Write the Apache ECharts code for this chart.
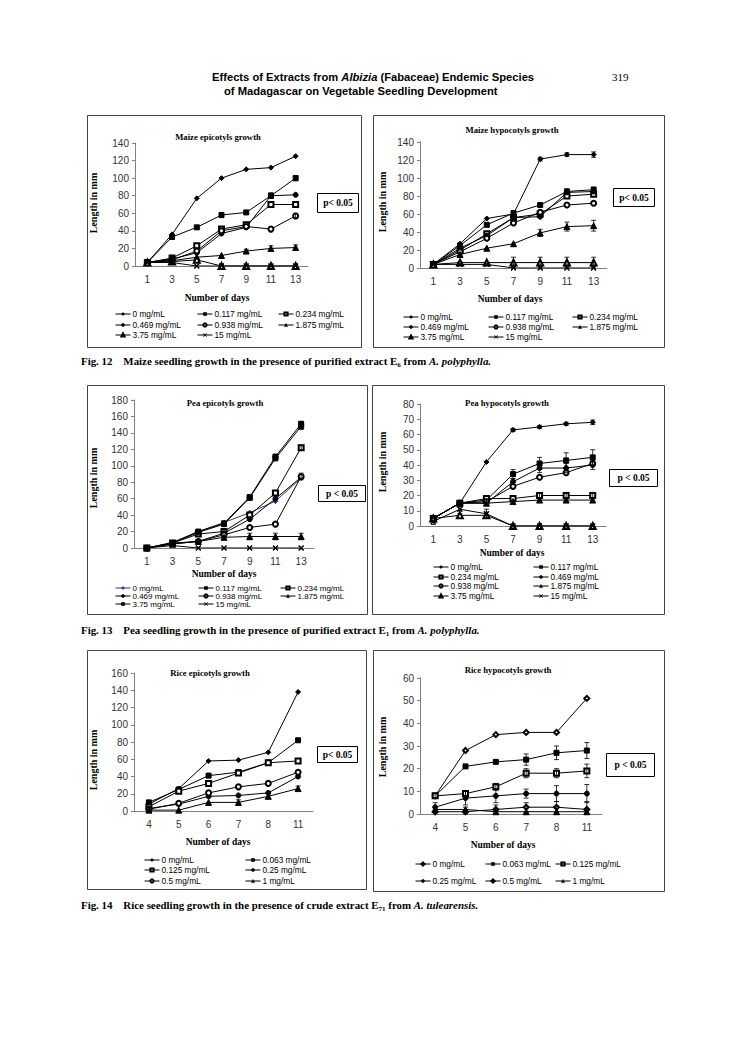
<!DOCTYPE html>
<html><head><meta charset="utf-8">
<script src="https://cdn.jsdelivr.net/npm/echarts@6/dist/echarts.min.js"></script>
<style>
html,body{margin:0;padding:0;background:#fff;}
body{width:745px;height:1053px;position:relative;overflow:hidden;}
.ch{position:absolute;}
.t{position:absolute;white-space:nowrap;color:#000;line-height:1;}
.hdr{font-family:'Liberation Sans',Arial,sans-serif;font-weight:bold;font-size:11.2px;}
.cap{font-family:'Liberation Serif','Times New Roman',serif;font-weight:bold;font-size:10.9px;}
.cap sub{font-size:7px;vertical-align:-2px;line-height:0;}
</style></head><body>
<div class="t hdr" style="left:212px;top:72px">Effects of Extracts from <i>Albizia</i> (Fabaceae) Endemic Species</div>
<div class="t hdr" style="left:224px;top:86px">of Madagascar on Vegetable Seedling Development</div>
<div class="t" style="left:612px;top:72px;font-family:'Liberation Serif',serif;font-size:11px">319</div>

<div class="ch" id="c1" style="left:87px;top:115px"></div>
<div class="ch" id="c2" style="left:373px;top:115px"></div>
<div class="t cap" style="left:81px;top:356px">Fig. 12&nbsp;&nbsp;&nbsp; Maize seedling growth in the presence of purified extract E<sub>6</sub> from <i>A. polyphylla.</i></div>

<div class="ch" id="c3" style="left:87px;top:385px"></div>
<div class="ch" id="c4" style="left:372px;top:385px"></div>
<div class="t cap" style="left:81px;top:625px">Fig. 13&nbsp;&nbsp;&nbsp; Pea seedling growth in the presence of purified extract E<sub>1</sub> from <i>A. polyphylla.</i></div>

<div class="ch" id="c5" style="left:87px;top:650px"></div>
<div class="ch" id="c6" style="left:373px;top:650px"></div>
<div class="t cap" style="left:81px;top:900px">Fig. 14&nbsp;&nbsp;&nbsp; Rice seedling growth in the presence of crude extract E<sub>71</sub> from <i>A. tulearensis.</i></div>

<script>
// ---------- DATA ----------
const maizeDays = ['1','3','5','7','9','11','13'];
const peaDays = ['1','3','5','7','9','11','13'];
const riceDays = ['4','5','6','7','8','11'];
const e6Doses = ['0 mg/mL','0.117 mg/mL','0.234 mg/mL','0.469 mg/mL','0.938 mg/mL','1.875 mg/mL','3.75 mg/mL','15 mg/mL'];
const e71Doses = ['0 mg/mL','0.063 mg/mL','0.125 mg/mL','0.25 mg/mL','0.5 mg/mL','1 mg/mL'];

// Maize epicotyls
const me0    = [4,36,77,100,110,112,125];
const me0117 = [4,33,44,58,61,80,100];
const me0234 = [4,9,23,42,47,70,70];
const me0469 = [4,8,15,37,44,80,81];
const me0938 = [4,7,17,40,45,42,57];
const me1875 = [4,6,10,12,17,20,21];
const me375  = [4,5,7,0,0,0,0];
const me15   = [4,4,0,0,0,0,0];
const me0117Err = [0,1,2,3,2,3,3];
const me0469Err = [0,0,0,0,0,3,0];
const me0938Err = [0,0,0,0,0,0,3];
const me1875Err = [0,0,0,0,2,3,3];

// Maize hypocotyls
const mh0    = [4,27,55,60,121,126,126];
const mh0117 = [4,25,48,61,70,85,87];
const mh0234 = [4,20,38,56,60,80,82];
const mh0469 = [4,22,36,56,57,84,85];
const mh0938 = [4,18,33,50,62,70,72];
const mh1875 = [4,15,22,27,39,46,47];
const mh375  = [4,6,6,6,6,6,6];
const mh15   = [4,4,4,0,0,0,0];
const mh0Err    = [0,0,0,0,2,2,3];
const mh0117Err = [0,0,0,0,0,3,3];
const mh1875Err = [0,0,0,0,4,5,6];
const mh375Err  = [0,0,0,6,6,6,6];

// Pea epicotyls
const pe0    = [0,7,20,31,43,57,85];
const pe0117 = [0,6,20,30,62,111,151];
const pe0234 = [0,6,17,20,40,67,122];
const pe0469 = [0,6,8,18,35,60,86];
const pe0938 = [0,5,8,16,25,29,87];
const pe1875 = [0,5,8,13,14,14,14];
const pe375  = [0,6,19,29,61,109,148];
const pe15   = [0,3,0,0,0,0,0];
const pe0117Err = [0,0,0,0,0,3,3];
const pe375Err  = [0,0,0,0,0,0,4];
const pe0234Err = [0,0,0,0,0,0,3];
const pe0938Err = [0,0,0,0,0,0,4];
const pe1875Err = [0,0,0,0,4,4,4];

// Pea hypocotyls
const ph0    = [5,15,42,63,65,67,68];
const ph0117 = [5,15,17,34,41,43,45];
const ph0234 = [5,15,18,18,20,20,20];
const ph0469 = [5,15,15,29,38,38,40];
const ph0938 = [5,15,16,26,32,35,41];
const ph1875 = [5,15,15,16,17,17,17];
const ph375  = [5,7,7,0,0,0,0];
const ph15   = [3,11,8,0,0,0,0];
const ph0Err    = [0,0,0,1,1,1,1.5];
const ph0117Err = [0,0,0,3,4,5,5];
const ph0469Err = [0,0,0,2,3,3,3];
const ph0234Err = [0,0,0,0,2,2,2];
const ph375Err  = [0,0,2,0,0,0,0];
const ph15Err   = [2,3,3,0,0,0,0];

// Rice epicotyls
const re0    = [8,26,58,59,68,138];
const re0063 = [10,25,41,45,56,82];
const re0125 = [5,23,32,44,56,58];
const re025  = [3,8,17,18,21,40];
const re05   = [2,9,21,28,32,45];
const re1    = [1,1,10,10,17,26];
const re1Err = [0,0,0,3,0,3];

// Rice hypocotyls
const rh0    = [8,28,35,36,36,51];
const rh0063 = [8,21,23,24,27,28];
const rh0125 = [8,9,12,18,18,19];
const rh025  = [3,7,8,9,9,9];
const rh05   = [1,1,2,3,3,2];
const rh1    = [2,2,1,1,1,1];
const rh0063Err = [0,0,0,2.5,3,3.5];
const rh0125Err = [1,1,1.5,2,2,3];
const rh025Err  = [2,3,3,2,3.5,4];
const rh05Err   = [0,2,2,2,2.5,3.5];

// ---------- STYLE / LAYOUT ----------
const XPATH = 'path://M0,1L1,0L5,4L9,0L10,1L6,5L10,9L9,10L5,6L1,10L0,9L4,5Z';
const SYMS = {d:'diamond',r:'rect',er:'emptyRect',c:'circle',ec:'emptyCircle',t:'triangle',et:'emptyTriangle',ed:'emptyDiamond',x:XPATH};
const SIZES = {d:5,r:5,er:5,c:5,ec:5,t:6,et:6,ed:5,x:5};

function errSeries(vals, errs){
  return {
    type:'custom', silent:true, z:4, animation:false,
    data: vals.map((v,i)=>[i,v,errs[i]]),
    encode:{x:0,y:1},
    renderItem:function(params, api){
      const x=api.value(0), v=api.value(1), e=api.value(2);
      if(!e) return null;
      const a=api.coord([x,v+e]), b=api.coord([x,Math.max(0,v-e)]), cw=2.5;
      const st={stroke:'#000',lineWidth:0.8};
      return {type:'group',children:[
        {type:'line',shape:{x1:a[0],y1:a[1],x2:b[0],y2:b[1]},style:st},
        {type:'line',shape:{x1:a[0]-cw,y1:a[1],x2:a[0]+cw,y2:a[1]},style:st},
        {type:'line',shape:{x1:b[0]-cw,y1:b[1],x2:b[0]+cw,y2:b[1]},style:st}
      ]};
    }
  };
}

const SERIF = '"Liberation Serif","Times New Roman",serif';
const SANS = '"Liberation Sans",Arial,sans-serif';

function makeChart(cfg){
  const el=document.getElementById(cfg.id);
  el.style.width=cfg.w+'px'; el.style.height=cfg.h+'px';
  const chart=echarts.init(el,null,{renderer:'svg'});
  const series=[];
  cfg.series.forEach((s,i)=>{
    const col=s.color||'#000';
    series.push({type:'line',name:cfg.names[i],data:s.data,symbol:SYMS[s.sym],symbolSize:SIZES[s.sym],
      showAllSymbol:true,lineStyle:{color:col,width:1},itemStyle:{color:col,borderColor:col,borderWidth:1},
      animation:false,z:3,emphasis:{disabled:true}});
    if(s.err) series.push(errSeries(s.data,s.err));
  });
  const legends=cfg.legend.map(([k,x,y])=>({data:[cfg.names[k]],left:x,top:y-5,orient:'horizontal',
    itemWidth:15,itemHeight:4,itemGap:0,padding:0,selectedMode:false,
    lineStyle:{width:1},itemStyle:{borderWidth:0.5},
    textStyle:{fontFamily:SANS,fontSize:cfg.lfs||8.3,color:'#000',padding:[0,0,0,-3]}}));
  const [pt,px,py]=cfg.title, [bx,by,bw,bh]=cfg.pbox;
  const txt=(t,x,y,font,rot)=>({type:'text',x:x,y:y,rotation:rot||0,silent:true,
    style:{text:t,font:font,fill:'#000',textAlign:'center',textVerticalAlign:'middle',align:'center',verticalAlign:'middle'}});
  chart.setOption({
    animation:false,
    grid:{left:cfg.grid[0],top:cfg.grid[1],width:cfg.grid[2],height:cfg.grid[3]},
    xAxis:{type:'category',data:cfg.cats,boundaryGap:true,
      axisLine:{lineStyle:{color:'#808080',width:1}},axisTick:{length:3,lineStyle:{color:'#808080'}},
      axisLabel:{fontFamily:SANS,fontSize:10,color:'#333',margin:8}},
    yAxis:{type:'value',min:0,max:cfg.ymax,interval:cfg.yint,splitLine:{show:false},
      axisLine:{show:true,lineStyle:{color:'#808080',width:1}},axisTick:{show:true,length:3,lineStyle:{color:'#808080'}},
      axisLabel:{fontFamily:SANS,fontSize:10,color:'#333',margin:6}},
    legend:legends,
    graphic:[
      {type:'rect',silent:true,shape:{x:0.5,y:0.5,width:cfg.w-1,height:cfg.h-1},style:{fill:'none',stroke:'#444',lineWidth:1}},
      txt(pt,px,py,'bold 8.7px '+SERIF),
      txt('Number of days',cfg.xname[0],cfg.xname[1],'bold 9.5px '+SERIF),
      txt('Length in mm',cfg.yname[0],cfg.yname[1],'bold 10px '+SERIF,Math.PI/2),
      {type:'rect',silent:true,shape:{x:bx+0.5,y:by+0.5,width:bw,height:bh},style:{fill:'#fff',stroke:'#000',lineWidth:1}},
      txt(cfg.ptext,bx+bw/2+0.5,by+bh/2+0.5,'bold 9.5px '+SERIF)
    ],
    series:series
  });
}

const L3 = (a,b,c,r1,r2,r3)=>[[0,a,r1],[1,b,r1],[2,c,r1],[3,a,r2],[4,b,r2],[5,c,r2],[6,a,r3],[7,b,r3]];

makeChart({id:'c1',w:275,h:233,grid:[48,28,173,123],ymax:140,yint:20,cats:maizeDays,names:e6Doses,
  title:['Maize epicotyls growth',131,22],xname:[130,183],yname:[6,88],pbox:[230,78,41,19],ptext:'p< 0.05',
  series:[{data:me0,sym:'d'},{data:me0117,sym:'r',err:me0117Err},{data:me0234,sym:'er'},{data:me0469,sym:'c',err:me0469Err},
          {data:me0938,sym:'ec',err:me0938Err},{data:me1875,sym:'t',err:me1875Err},{data:me375,sym:'et'},{data:me15,sym:'x'}],
  legend:L3(28,110,191,200,211,221)});

makeChart({id:'c2',w:292,h:233,grid:[47,27,187,126],ymax:140,yint:20,cats:maizeDays,names:e6Doses,
  title:['Maize hypocotyls growth',139,15],xname:[137,184],yname:[9,87],pbox:[240,73,41,18],ptext:'p< 0.05',
  series:[{data:mh0,sym:'d',err:mh0Err},{data:mh0117,sym:'r',err:mh0117Err},{data:mh0234,sym:'er'},{data:mh0469,sym:'c'},
          {data:mh0938,sym:'ec'},{data:mh1875,sym:'t',err:mh1875Err},{data:mh375,sym:'et',err:mh375Err},{data:mh15,sym:'x'}],
  legend:L3(30,115,199,203,213,223)});

makeChart({id:'c3',w:281,h:230,grid:[47,15,180,148],ymax:180,yint:20,cats:peaDays,names:e6Doses,lfs:8,
  title:['Pea epicotyls growth',138,18],xname:[137,189],yname:[6,93],pbox:[231,100,47,16],ptext:'p < 0.05',
  series:[{data:pe0,sym:'d',color:'#2c3a7a'},{data:pe0117,sym:'r',err:pe0117Err},{data:pe0234,sym:'er',err:pe0234Err},{data:pe0469,sym:'c'},
          {data:pe0938,sym:'ec',err:pe0938Err},{data:pe1875,sym:'t',err:pe1875Err},{data:pe375,sym:'r',err:pe375Err},{data:pe15,sym:'x'}],
  legend:L3(28,111,193,204,212,220)});

makeChart({id:'c4',w:293,h:230,grid:[48,19,186,122],ymax:80,yint:10,cats:peaDays,names:e6Doses,
  title:['Pea hypocotyls growth',135,18],xname:[140,168],yname:[10,77],pbox:[237,84,48,17],ptext:'p < 0.05',
  series:[{data:ph0,sym:'d',err:ph0Err},{data:ph0117,sym:'r',err:ph0117Err},{data:ph0234,sym:'er',err:ph0234Err},{data:ph0469,sym:'c',err:ph0469Err},
          {data:ph0938,sym:'ec'},{data:ph1875,sym:'t'},{data:ph375,sym:'et',err:ph375Err},{data:ph15,sym:'x',err:ph15Err}],
  legend:[[0,61,183],[1,161,183],[2,61,193],[3,161,193],[4,61,202],[5,161,202],[6,61,212],[7,161,212]]});

makeChart({id:'c5',w:280,h:240,grid:[47,23,179,138],ymax:160,yint:20,cats:riceDays,names:e71Doses,
  title:['Rice epicotyls growth',123,23],xname:[131,192],yname:[6,110],pbox:[230,96,40,16],ptext:'p< 0.05',
  series:[{data:re0,sym:'d'},{data:re0063,sym:'r'},{data:re0125,sym:'er'},{data:re025,sym:'c'},
          {data:re05,sym:'ec'},{data:re1,sym:'t',err:re1Err}],
  legend:[[0,57,211],[1,158,211],[2,57,221],[3,158,221],[4,57,232],[5,158,232]]});

makeChart({id:'c6',w:292,h:242,grid:[47,28,182,136],ymax:60,yint:10,cats:riceDays,names:e71Doses,
  title:['Rice hypocotyls growth',135,20],xname:[130,195],yname:[9,97],pbox:[233,103,48,23],ptext:'p < 0.05',
  series:[{data:rh0,sym:'ed'},{data:rh0063,sym:'r',err:rh0063Err},{data:rh0125,sym:'er',err:rh0125Err},{data:rh025,sym:'c',err:rh025Err},
          {data:rh05,sym:'ed',err:rh05Err},{data:rh1,sym:'t'}],
  legend:[[0,42,215],[1,112,215],[2,182,215],[3,42,232],[4,112,232],[5,182,232]]});
</script>
</body></html>
